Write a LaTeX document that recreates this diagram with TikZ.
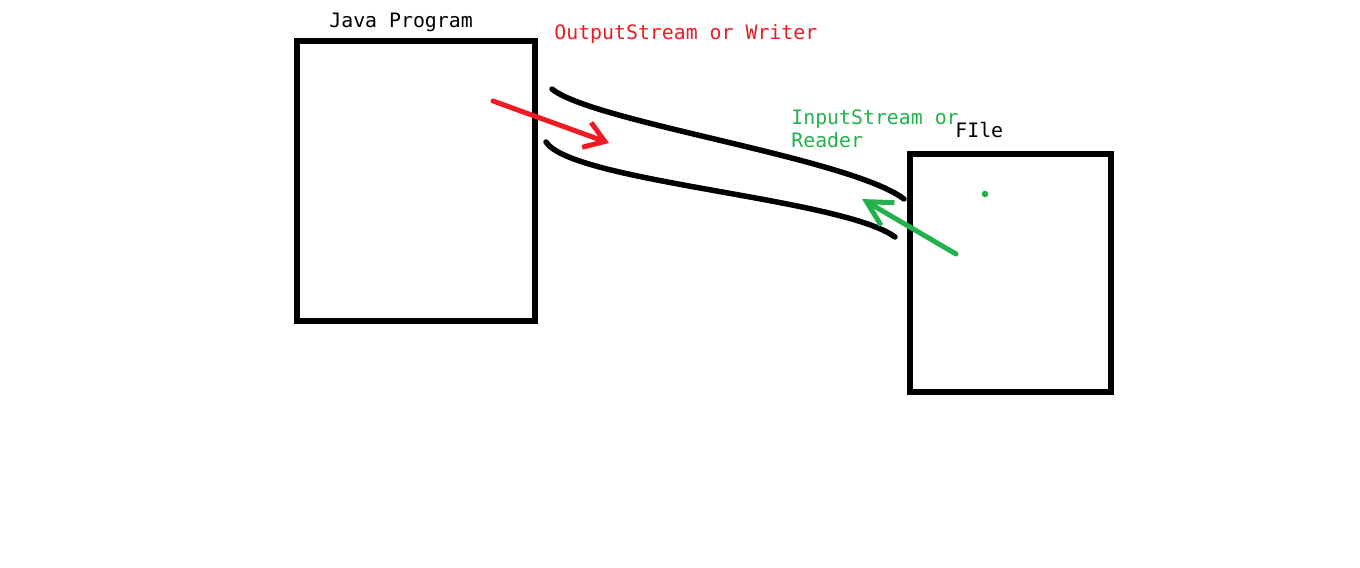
\documentclass[tikz,border=0pt]{standalone}
\usepackage{fontspec}
\setmonofont{DejaVu Sans Mono}
\usepackage{xcolor}
\usetikzlibrary{arrows.meta}
\definecolor{paintred}{RGB}{237,28,36}
\definecolor{paintgreen}{RGB}{34,177,76}
\tikzset{> = {Straight Barb[length=11pt,width=15pt]},
	box/.style={draw, line width=.11cm, inner sep=0},
	lbl/.style={font=\ttfamily\fontsize{11.3}{13}\selectfont, inner sep=0, anchor=west},
	pipe/.style={line width=.11cm, line cap=round},
	flow/.style={->, line width=.1cm, line cap=round}}

\begin{document}
\begin{tikzpicture}[x=.02cm,y=-.02cm]
	\useasboundingbox (0,0) rectangle (1360,568);
	\node[box, minimum width=4.76cm, minimum height=5.6cm] (prog) at (416,181){};
	\node[box, minimum width=4.02cm, minimum height=4.76cm] (file) at (1010.5,273){};
	\node[lbl] (progname) at (329,22){Java Program};
	\node[lbl] (filename) at (955,130){FIle};
	\node[lbl, text=paintred] (outlbl) at (554,34){OutputStream or Writer};
	\node[lbl, text=paintgreen, align=left, text depth=0pt] (inlbl) at (791,128.5){InputStream or\\Reader};
	%the two walls of the stream
	\coordinate (up1) at (552,89);
	\coordinate (up2) at (904,199);
	\coordinate (lo1) at (546,142);
	\coordinate (lo2) at (895,237);
	\draw[pipe] (up1) .. controls (592,122) and (850,158) .. (up2);
	\draw[pipe] (lo1) .. controls (572,182) and (842,198) .. (lo2);
	%writing and reading
	\coordinate (wr1) at (493,101);
	\coordinate (wr2) at (609,143);
	\coordinate (rd1) at (956,254);
	\coordinate (rd2) at (862,199);
	\draw[flow, paintred] (wr1)--(wr2);
	\draw[flow, paintgreen, >={Straight Barb[length=14pt,width=15pt]}] (rd1)--(rd2);
	\fill[paintgreen] (985,194) circle(3.3);
\end{tikzpicture}
\end{document}
